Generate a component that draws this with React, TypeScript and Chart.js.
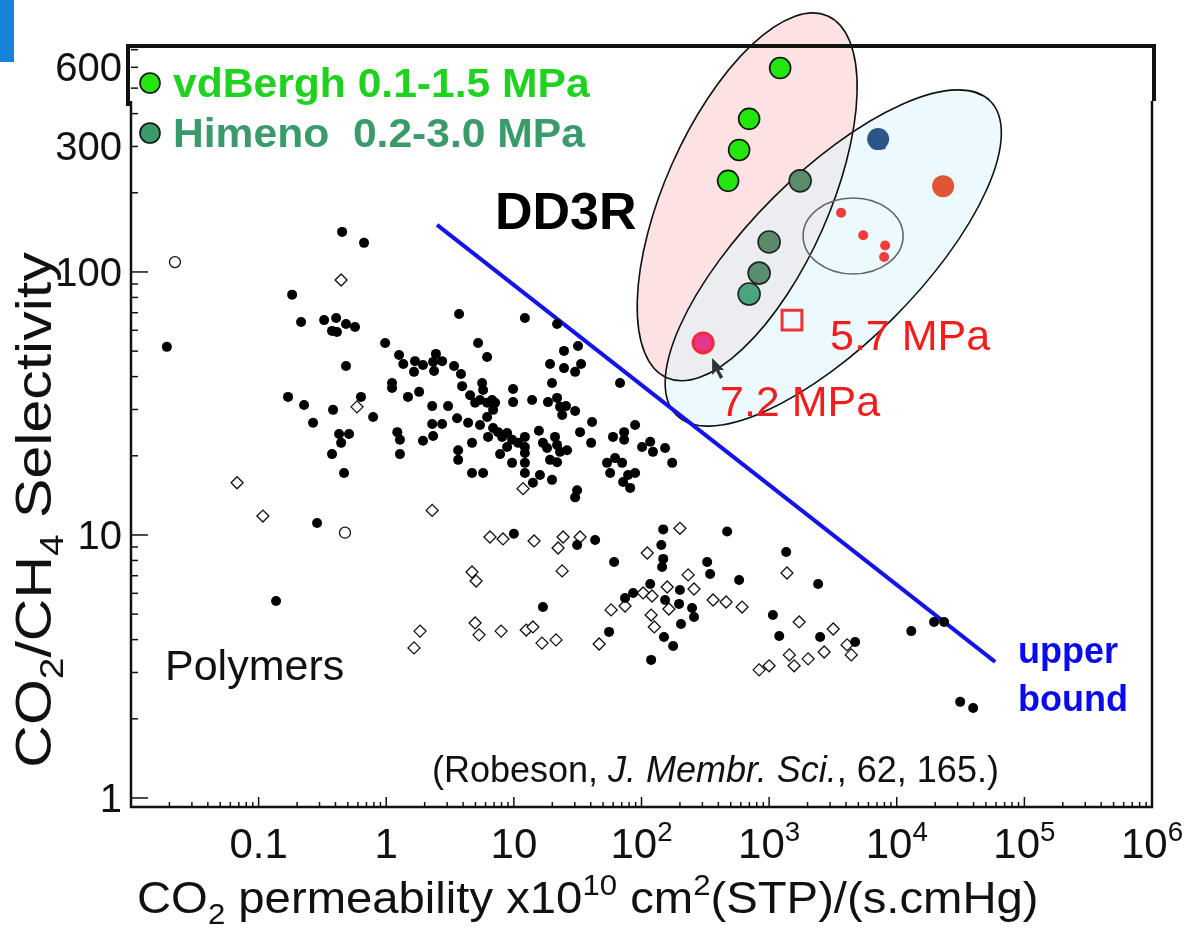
import React, { useEffect, useRef } from 'react';
import { Chart, registerables } from 'chart.js';

Chart.register(...registerables);

const FONT = '"Liberation Sans", Arial, Helvetica, sans-serif';

// ---------------- data ----------------
// Robeson (1991) polymer data, filled circles
const robesonFilledX = [0.451,0.67,0.183,0.215,0.326,0.405,0.484,0.569,0.376,0.411,0.0191,0.98,1.26,1.36,1.68,1.65,0.484,1.11,1.11,1.48,1.81,0.17,0.227,0.383,0.634,0.789,0.267,0.427,0.511,0.443,1.22,1.28,0.376,1.28,3.72,1.94,2.45,2.33,2.74,2.37,3.4,3.85,3.93,2.29,3.05,3.59,2.29,2.74,1.94,2.33,3.66,3.66,0.467,12.2,21.8,5.24,6.17,24.7,31.8,19.2,24.7,30.2,33.6,19.9,67.9,5.64,9.86,9.86,13.9,18.5,21.8,23.0,25.6,23.9,30.2,41.0,33.0,40.3,89.1,59.8,73.1,73.1,101,117,123,53.7,62.1,70.5,56.8,78.5,89.1,71.8,81.5,31.3,30.2,19.9,12.2,12.2,14.1,16.0,4.7,5.74,4.7,4.54,4.97,5.43,5.74,6.17,6.75,7.13,6.87,6.17,4.38,5.43,6.28,6.87,7.52,8.09,8.85,9.68,7.8,9.68,8.85,10.8,12.2,12.2,12.2,15.7,16.9,18.2,21.0,21.8,23.0,26.1,19.2,21.8,153,174,10.0,31.3,43.3,61.0,16.9,148,143,148,145,117,200,85.9,74.3,153,197,204,55.7,150,177,119,469,327,345,249,258,582,1360,2420,1070,1200,2510,4720,13000,19600,23500,31400,39700,0.287,0.137];
const robesonFilledY = [142,129,82,64.5,65.6,66.8,63.4,61.8,59.7,59.1,51.9,53.7,48.3,44.7,45.8,41.7,43.9,37.8,36.2,33.5,35.0,33.5,31.2,29.9,33.5,28.1,26.7,24.2,24.2,22.4,24.6,23.0,20.3,20.3,69.2,44.3,48.8,45.5,45.8,42.0,43.9,40.9,36.8,30.9,30.9,27.8,26.4,26.4,22.8,23.8,21.0,19.3,17.2,66.8,63.4,53.7,47.5,50.1,52.3,44.7,43.1,41.7,44.7,37.8,37.8,37.8,35.9,32.0,32.6,32.0,33.2,30.7,30.9,28.6,29.6,26.9,24.6,22.4,26.2,23.6,24.6,23.0,21.6,22.6,20.7,18.8,19.6,18.8,17.2,16.9,17.2,15.9,15.1,14.8,13.9,16.2,17.2,18.8,15.8,16.9,17.2,17.2,22.4,34.0,31.8,32.6,35.6,31.8,32.6,31.8,29.9,28.1,26.7,26.2,23.6,25.5,24.6,23.6,24.4,23.0,20.3,18.8,21.6,22.4,23.6,21.6,20.5,24.9,22.4,21.4,23.6,22.0,20.7,21.0,19.3,18.9,21.4,18.8,10.1,9.16,9.57,7.89,5.32,10.5,9.16,8.11,7.55,6.51,6.18,6.02,5.76,5.66,5.47,4.59,4.28,4.09,3.78,3.35,10.3,7.89,7.11,5.28,4.88,6.74,8.61,6.51,4.96,4.13,4.09,3.92,4.31,4.67,4.67,2.32,2.2,11.1,5.61];

// Robeson open diamonds
const robesonOpenX = [0.443,0.59,2.29,11.8,6.5,8.22,14.4,24.3,33.0,22.2,23.9,4.7,5.06,4.97,5.33,7.94,12.5,14.1,16.6,21.4,1.84,1.65,200,111,159,103,121,74.3,57.8,164,119,126,46.6,232,258,364,460,614,1380,1720,3180,4080,4400,2700,2020,1440,1570,835,1000,0.0678,0.108];
const robesonOpenY = [93.2,30.7,12.4,15.0,9.82,9.66,9.49,9.82,9.82,8.92,7.3,7.23,6.68,4.63,4.17,4.31,4.35,4.47,3.88,3.99,4.31,3.72,10.6,8.54,6.34,6.02,5.86,5.37,5.19,5.23,4.96,4.47,3.85,7.05,6.23,5.66,5.56,5.32,7.17,4.67,4.39,3.82,3.5,3.59,3.38,3.5,3.18,3.07,3.18,15.8,11.8];

// Robeson open circles
const robesonCircleX = [0.0221, 0.475];
const robesonCircleY = [109, 10.2];

// upper bound line (Robeson 1991)
const upperBoundX = [2.5, 59000];
const upperBoundY = [151, 3.29];

// DD3R membranes
const vdBerghX = [1220, 697, 582, 477];
const vdBerghY = [596, 382, 291, 222];
const himenoX = [1750, 1000, 835, 697];
const himenoY = [222, 130, 99, 82.4];
const himenoColors = ['#5b8c6b', '#5a8a6a', '#588f6e', '#4aa57e'];
const dd3r57X = [3660, 5460, 8110, 7960];
const dd3r57Y = [168, 138, 126, 114];
const dd3rSquareX = [1510];
const dd3rSquareY = [65.6];
const dd3r72X = [304];
const dd3r72Y = [53.7];
const otherX = [7150, 23100];
const otherY = [320, 212];
const otherColors = ['#2a5788', '#e05634'];
const blueMarkX = [7550];
const blueMarkY = [304];

// axes ticks
const xTickValues = [0.1, 1, 10, 100, 1e3, 1e4, 1e5, 1e6];
const xTickBase = ['0.1', '1', '10', '10', '10', '10', '10', '10'];
const xTickExp = ['', '', '', '2', '3', '4', '5', '6'];
const yTickValues = [1, 10, 100, 300, 600];
const yTickLabels = ['1', '10', '100', '300', '600'];

// regions drawn on the plot (centre in data units)
const regions = [
  { name: 'vdBergh', x: 673, y: 193, rx: 82, ry: 198, rot: 24, fill: 'rgb(252,226,226)', stroke: '#111', lw: 1.6 },
  { name: 'Himeno', x: 3180, y: 113, rx: 85, ry: 222, rot: 45, fill: 'rgba(222,246,251,0.55)', stroke: '#111', lw: 1.6 },
  { name: '5.7 MPa', x: 4550, y: 137, rx: 50, ry: 38, rot: 0, fill: '', stroke: '#666', lw: 1.6 },
];

const pts = (xs: number[], ys: number[]) => xs.map((x, i) => ({ x, y: ys[i] }));

type Part = { t: string; k?: 'sup' | 'sub' | 'i' };

function drawRich(
  ctx: CanvasRenderingContext2D,
  parts: Part[],
  x: number,
  baseline: number,
  size: number,
  color: string,
  align: 'left' | 'center' | 'right',
  weight = 'normal',
  stretch = 1
) {
  const fontFor = (p: Part) => {
    const s = p.k === 'sup' || p.k === 'sub' ? size * 0.66 : size;
    const st = p.k === 'i' ? 'italic ' : '';
    return `${st}${weight} ${s}px ${FONT}`;
  };
  const widths: number[] = [];
  let total = 0;
  for (const p of parts) {
    ctx.font = fontFor(p);
    const w = ctx.measureText(p.t).width;
    widths.push(w);
    total += w;
  }
  const scaled = total * stretch;
  const x0 = align === 'center' ? x - scaled / 2 : align === 'right' ? x - scaled : x;
  ctx.save();
  ctx.translate(x0, baseline);
  ctx.scale(stretch, 1);
  ctx.fillStyle = color;
  ctx.textAlign = 'left';
  ctx.textBaseline = 'alphabetic';
  let cx = 0;
  parts.forEach((p, i) => {
    ctx.font = fontFor(p);
    const dy = p.k === 'sup' ? -size * 0.4 : p.k === 'sub' ? size * 0.24 : 0;
    ctx.fillText(p.t, cx, dy);
    cx += widths[i];
  });
  ctx.restore();
}

const decor = {
  id: 'decor',
  beforeDatasetsDraw(chart: any) {
    const { ctx, scales } = chart;
    const xs = scales.x;
    const ys = scales.y;
    ctx.save();
    const geo = regions.map((r) => ({ ...r, cx: xs.getPixelForValue(r.x), cy: ys.getPixelForValue(r.y) }));
    for (const g of geo) {
      if (!g.fill) continue;
      ctx.beginPath();
      ctx.ellipse(g.cx, g.cy, g.rx, g.ry, (g.rot * Math.PI) / 180, 0, Math.PI * 2);
      ctx.fillStyle = g.fill;
      ctx.fill();
    }
    for (const g of geo) {
      ctx.beginPath();
      ctx.ellipse(g.cx, g.cy, g.rx, g.ry, (g.rot * Math.PI) / 180, 0, Math.PI * 2);
      ctx.strokeStyle = g.stroke;
      ctx.lineWidth = g.lw;
      ctx.stroke();
    }
    ctx.restore();
  },
  afterDatasetsDraw(chart: any) {
    const { ctx, chartArea: ca, scales } = chart;
    const xs = scales.x;
    const ys = scales.y;
    ctx.save();
    ctx.lineCap = 'butt';

    // axes
    ctx.strokeStyle = '#111';
    ctx.lineWidth = 2.5;
    ctx.beginPath();
    ctx.moveTo(ca.left, ca.top + 55);
    ctx.lineTo(ca.left, ca.bottom);
    ctx.lineTo(ca.right, ca.bottom);
    ctx.lineTo(ca.right, ca.top + 55);
    ctx.stroke();

    // top frame
    ctx.lineWidth = 4;
    ctx.beginPath();
    ctx.moveTo(ca.left - 3, ca.top + 60);
    ctx.lineTo(ca.left - 3, ca.top);
    ctx.lineTo(ca.right + 2, ca.top);
    ctx.lineTo(ca.right + 2, ca.top + 55);
    ctx.stroke();

    // x ticks
    ctx.lineWidth = 1.5;
    for (let d = -2; d <= 5; d++) {
      for (let m = 1; m <= 9; m++) {
        const v = m * Math.pow(10, d);
        const px = xs.getPixelForValue(v);
        const len = m === 1 ? 10 : 5;
        ctx.beginPath();
        ctx.moveTo(px, ca.bottom);
        ctx.lineTo(px, ca.bottom - len);
        ctx.stroke();
      }
    }
    // y ticks
    for (let d = 0; d <= 2; d++) {
      for (let m = 1; m <= 9; m++) {
        const v = m * Math.pow(10, d);
        if (v > ys.max) continue;
        const py = ys.getPixelForValue(v);
        const len = m === 1 ? 17 : 7;
        ctx.beginPath();
        ctx.moveTo(ca.left, py);
        ctx.lineTo(ca.left + len, py);
        ctx.stroke();
      }
    }

    // x tick labels
    xTickValues.forEach((v, i) => {
      const px = xs.getPixelForValue(v);
      const parts: Part[] = [{ t: xTickBase[i] }];
      if (xTickExp[i]) parts.push({ t: xTickExp[i], k: 'sup' });
      drawRich(ctx, parts, px, 858, 42, '#111', 'center');
    });
    // y tick labels
    yTickValues.forEach((v, i) => {
      const py = ys.getPixelForValue(v);
      drawRich(ctx, [{ t: yTickLabels[i] }], 122, py + 14, 40, '#111', 'right');
    });

    // axis titles
    drawRich(
      ctx,
      [
        { t: 'CO' },
        { t: '2', k: 'sub' },
        { t: ' permeability x10' },
        { t: '10', k: 'sup' },
        { t: ' cm' },
        { t: '2', k: 'sup' },
        { t: '(STP)/(s.cmHg)' },
      ],
      137,
      913,
      45,
      '#111',
      'left',
      'normal',
      1.05
    );
    ctx.save();
    ctx.translate(33, 510);
    ctx.rotate(-Math.PI / 2);
    drawRich(
      ctx,
      [{ t: 'CO' }, { t: '2', k: 'sub' }, { t: '/CH' }, { t: '4', k: 'sub' }, { t: ' Selectivity' }],
      0,
      18,
      50,
      '#111',
      'center',
      'normal',
      1.18
    );
    ctx.restore();

    // annotations
    drawRich(ctx, [{ t: 'DD3R' }], 495, 229, 52, '#000', 'left', 'bold');
    drawRich(ctx, [{ t: 'Polymers' }], 165, 680, 43, '#111', 'left');
    drawRich(
      ctx,
      [{ t: '(Robeson, ' }, { t: 'J. Membr. Sci.', k: 'i' }, { t: ', 62, 165.)' }],
      432,
      782,
      36,
      '#111',
      'left'
    );
    drawRich(ctx, [{ t: 'upper' }], 1018, 663, 36, '#0a0af0', 'left', 'bold');
    drawRich(ctx, [{ t: 'bound' }], 1018, 711, 36, '#0a0af0', 'left', 'bold');
    drawRich(ctx, [{ t: '5.7 MPa' }], 830, 350, 43, '#f21d1d', 'left');
    drawRich(ctx, [{ t: '7.2 MPa' }], 720, 416, 43, '#f21d1d', 'left');

    // legend
    const legend = [
      { label: 'vdBergh 0.1-1.5 MPa', marker: '#22e60e', text: '#1fd21f', y: 83 },
      { label: 'Himeno  0.2-3.0 MPa', marker: '#3a9a6a', text: '#3a9a6a', y: 133 },
    ];
    for (const l of legend) {
      ctx.beginPath();
      ctx.arc(150, l.y, 10, 0, Math.PI * 2);
      ctx.fillStyle = l.marker;
      ctx.fill();
      ctx.lineWidth = 1.6;
      ctx.strokeStyle = '#111';
      ctx.stroke();
      drawRich(ctx, [{ t: l.label }], 173, l.y + 14, 40, l.text, 'left', 'bold', 1.065);
    }

    // corner accent
    ctx.fillStyle = '#1683d8';
    ctx.fillRect(0, 0, 14, 62);

    // mouse pointer
    const ax = xs.getPixelForValue(dd3r72X[0]) + 9;
    const ay = ys.getPixelForValue(dd3r72Y[0]) + 15;
    ctx.beginPath();
    ctx.moveTo(ax, ay);
    ctx.lineTo(ax, ay + 17);
    ctx.lineTo(ax + 4, ay + 13);
    ctx.lineTo(ax + 8, ay + 21);
    ctx.lineTo(ax + 11, ay + 19);
    ctx.lineTo(ax + 7, ay + 12);
    ctx.lineTo(ax + 12, ay + 12);
    ctx.closePath();
    ctx.fillStyle = '#2c3535';
    ctx.fill();

    ctx.restore();
  },
};

export default function App() {
  const ref = useRef<HTMLCanvasElement>(null);
  useEffect(() => {
    document.body.style.margin = '0';
    const canvas = ref.current!;
    const chart = new Chart(canvas, {
      type: 'scatter',
      data: {
        datasets: [
          {
            label: 'DD3R 7.2 MPa',
            data: pts(dd3r72X, dd3r72Y),
            pointStyle: 'circle',
            pointRadius: 10,
            backgroundColor: '#e9358a',
            borderColor: '#f2283c',
            borderWidth: 3,
            order: 1,
          },
          {
            label: 'DD3R 5.7 MPa (square)',
            data: pts(dd3rSquareX, dd3rSquareY),
            pointStyle: 'rect',
            pointRadius: 14,
            backgroundColor: 'rgba(0,0,0,0)',
            borderColor: '#ee3333',
            borderWidth: 3,
            order: 1,
          },
          {
            label: 'vdBergh',
            data: pts(vdBerghX, vdBerghY),
            pointStyle: 'circle',
            pointRadius: 10.5,
            backgroundColor: '#22e60e',
            borderColor: '#111',
            borderWidth: 1.6,
            order: 1,
          },
          {
            label: 'Himeno',
            data: pts(himenoX, himenoY),
            pointStyle: 'circle',
            pointRadius: 11,
            backgroundColor: himenoColors,
            borderColor: '#222',
            borderWidth: 1.6,
            order: 1,
          },
          {
            label: 'DD3R 5.7 MPa',
            data: pts(dd3r57X, dd3r57Y),
            pointStyle: 'circle',
            pointRadius: 5,
            backgroundColor: '#f03c3c',
            borderWidth: 0,
            order: 1,
          },
          {
            label: 'Other DD3R',
            data: pts(otherX, otherY),
            pointStyle: 'circle',
            pointRadius: 11,
            backgroundColor: otherColors,
            borderWidth: 0,
            order: 2,
          },
          {
            label: 'mark',
            data: pts(blueMarkX, blueMarkY),
            pointStyle: 'rect',
            pointRadius: 6,
            backgroundColor: '#1a3cf0',
            borderWidth: 0,
            order: 3,
          },
          {
            label: 'Robeson filled',
            data: pts(robesonFilledX, robesonFilledY),
            pointStyle: 'circle',
            pointRadius: 5,
            backgroundColor: '#000',
            borderWidth: 0,
            order: 4,
          },
          {
            label: 'Robeson open',
            data: pts(robesonOpenX, robesonOpenY),
            pointStyle: 'rectRot',
            pointRadius: 6,
            backgroundColor: '#fff',
            borderColor: '#111',
            borderWidth: 1.3,
            order: 4,
          },
          {
            label: 'Robeson open circles',
            data: pts(robesonCircleX, robesonCircleY),
            pointStyle: 'circle',
            pointRadius: 5.5,
            backgroundColor: '#fff',
            borderColor: '#111',
            borderWidth: 1.3,
            order: 4,
          },
          {
            type: 'line',
            label: 'upper bound',
            data: pts(upperBoundX, upperBoundY),
            borderColor: '#1414e8',
            borderWidth: 4,
            pointRadius: 0,
            fill: false,
            order: 5,
          } as any,
        ],
      },
      options: {
        responsive: false,
        animation: false,
        devicePixelRatio: 1,
        layout: { padding: { left: 131, right: 42, top: 46, bottom: 124 } },
        plugins: { legend: { display: false }, tooltip: { enabled: false }, title: { display: false } },
        events: [],
        scales: {
          x: { type: 'logarithmic', min: 0.01, max: 1e6, display: false, bounds: 'data' },
          y: { type: 'logarithmic', min: 0.924, max: 723, display: false, bounds: 'data' },
        },
        elements: { point: { hoverRadius: 0 } },
        clip: false as any,
      },
      plugins: [decor],
    });
    return () => chart.destroy();
  }, []);
  return <canvas ref={ref} width={1194} height={931} style={{ display: 'block', width: 1194, height: 931 }} />;
}
